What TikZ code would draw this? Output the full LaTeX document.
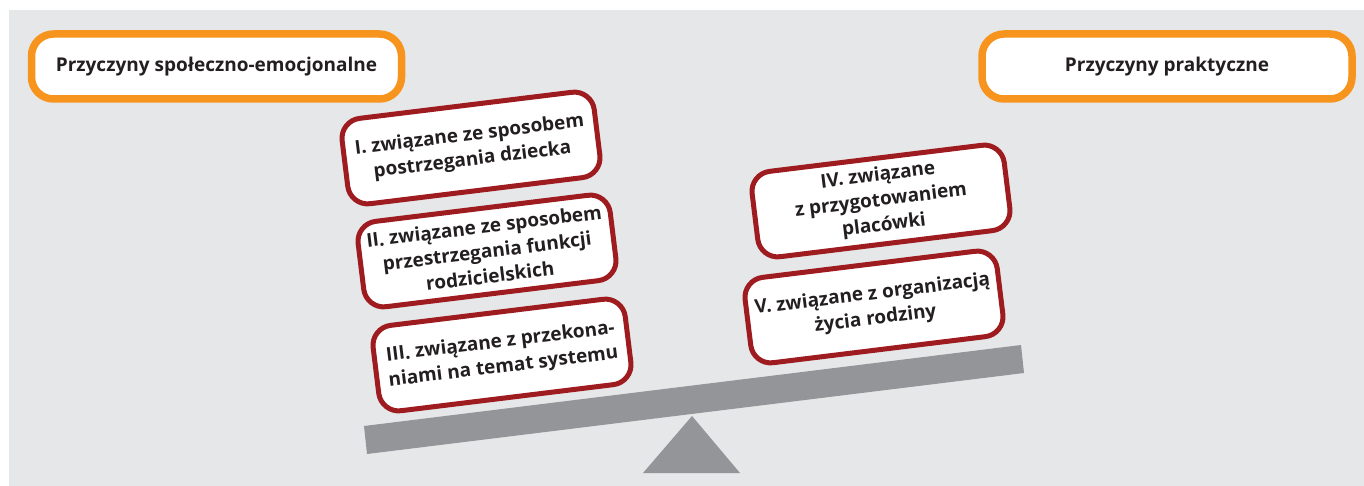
\documentclass[tikz,border=0pt]{standalone}
\usepackage{fontspec}
\setmainfont{Open Sans}
\definecolor{bggrey}{HTML}{E6E7E8}
\definecolor{beamgrey}{HTML}{939598}
\definecolor{orangec}{HTML}{F7941D}
\definecolor{redc}{HTML}{9E1B20}
\definecolor{textc}{HTML}{231F20}
\tikzset{
  header/.style={draw=orangec, line width=7.5pt, fill=white, rounded corners=22pt,
    minimum width=370pt, minimum height=65pt, inner sep=0pt, text=textc,
    font=\fontsize{19}{22}\selectfont\bfseries},
  cause/.style={draw=redc, line width=5pt, fill=white, rounded corners=20pt,
    minimum width=254pt, minimum height=86pt, inner sep=2pt, align=center,
    rotate=7, text=textc, font=\fontsize{19}{25}\selectfont\bfseries}
}
\begin{document}
\begin{tikzpicture}[x=1pt,y=-1pt]
\useasboundingbox (0,0) rectangle (1364,486);
\fill[bggrey] (9,10) rectangle (1364,486);
% fulcrum and beam
\fill[beamgrey] (692,416) -- (740,473) -- (643,473) -- cycle;
\fill[beamgrey] (364,426) -- (1021,345) -- (1024,373) -- (367,454) -- cycle;
% headers
\node[header] (h1) at (216.5,66.5) {Przyczyny społeczno-emocjonalne};
\node[header] (h2) at (1167,66.5) {Przyczyny praktyczne};
% left stack
\node[cause] (c1) at (471,148) {I. związane ze sposobem\\postrzegania dziecka};
\node[cause] (c2) at (487,251) {II. związane ze sposobem\\przestrzegania funkcji\\rodzicielskich};
\node[cause] (c3) at (502,355) {III. związane z przekona-\\niami na temat systemu};
% right stack
\node[cause] (c4) at (881,201) {IV. związane\\z przygotowaniem\\placówki};
\node[cause] (c5) at (874,307) {V. związane z organizacją\\życia rodziny};
\end{tikzpicture}
\end{document}
